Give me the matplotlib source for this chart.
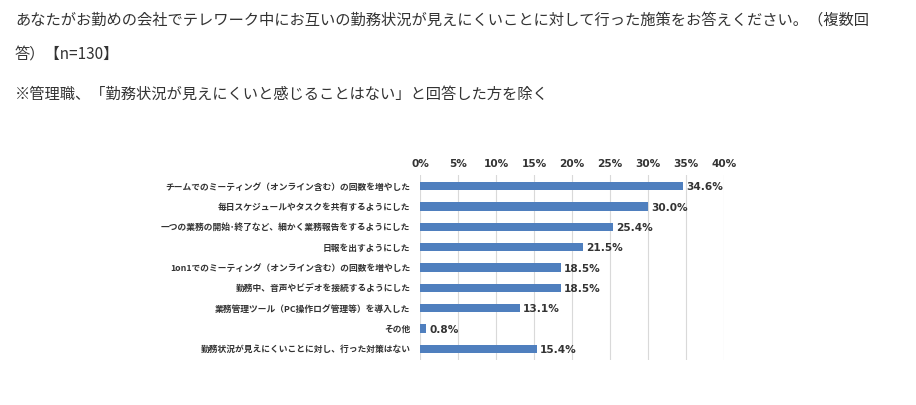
"""Bar chart of measures taken against low visibility of work status during telework."""
import matplotlib

matplotlib.use("Agg")
import matplotlib.pyplot as plt

plt.rcParams["font.family"] = ["Noto Sans CJK JP", "DejaVu Sans"]

categories = [
    "チームでのミーティング（オンライン含む）の回数を増やした",
    "毎日スケジュールやタスクを共有するようにした",
    "一つの業務の開始･終了など、細かく業務報告をするようにした",
    "日報を出すようにした",
    "1on1でのミーティング（オンライン含む）の回数を増やした",
    "勤務中、音声やビデオを接続するようにした",
    "業務管理ツール（PC操作ログ管理等）を導入した",
    "その他",
    "勤務状況が見えにくいことに対し、行った対策はない",
]
values = [34.6, 30.0, 25.4, 21.5, 18.5, 18.5, 13.1, 0.8, 15.4]
ticks = [0, 5, 10, 15, 20, 25, 30, 35, 40]

title_lines = [
    "あなたがお勤めの会社でテレワーク中にお互いの勤務状況が見えにくいことに対して行った施策をお答えください。（複数回",
    "答）【n=130】",
    "※管理職、「勤務状況が見えにくいと感じることはない」と回答した方を除く",
]

BAR = "#4F7FBE"
TEXT = "#333333"

fig = plt.figure(figsize=(9.16, 4.05), dpi=100)
fig.set_facecolor("white")

for text, y in zip(title_lines, [20, 54, 94]):
    fig.text(15 / 916, 1 - y / 405, text, fontsize=11, color=TEXT, va="center", ha="left")

ax = fig.add_axes([420 / 916, 1 - 360 / 405, 304 / 916, 185 / 405])
pos = list(range(len(categories)))
ax.barh(pos, values, height=0.4, color=BAR, zorder=2)
ax.set_xlim(0, 40)
ax.set_ylim(8.55, -0.55)

ax.set_xticks(ticks)
ax.set_xticklabels([f"{t}%" for t in ticks], family="DejaVu Sans", fontweight="bold", fontsize=7.6, color=TEXT)
ax.xaxis.tick_top()
ax.tick_params(axis="x", length=0, pad=4)
ax.set_yticks(pos)
ax.set_yticklabels(categories, fontsize=6.3, fontweight="bold", color=TEXT)
ax.tick_params(axis="y", length=0, pad=7)

ax.grid(axis="x", color="#d9d9d9", linewidth=0.8, zorder=0)
for side in ax.spines.values():
    side.set_visible(False)

for p, v in zip(pos, values):
    ax.text(v + 0.4, p + 0.05, f"{v:.1f}%", va="center", ha="left",
            family="DejaVu Sans", fontweight="bold", fontsize=7.6, color=TEXT)

fig.savefig("out.png", dpi=100, facecolor="white")
